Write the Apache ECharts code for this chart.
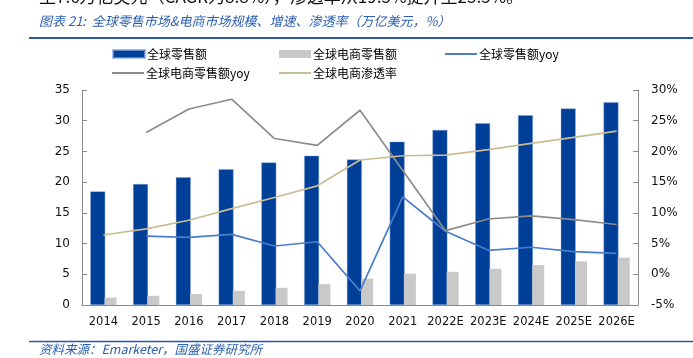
<!DOCTYPE html>
<html>
<head>
<meta charset="utf-8">
<script src="https://cdn.jsdelivr.net/npm/echarts@6/dist/echarts.min.js"></script>
<style>
html,body{margin:0;padding:0;background:#fff;}
#c{width:693px;height:358px;}
</style>
</head>
<body>
<div id="c"></div>
<script>
const categories = ['2014','2015','2016','2017','2018','2019','2020','2021','2022E','2023E','2024E','2025E','2026E'];
const retail = [18.5, 19.7, 20.8, 22.1, 23.2, 24.3, 23.7, 26.6, 28.5, 29.6, 30.9, 32.0, 33.0];
const ecom = [1.2, 1.5, 1.8, 2.3, 2.8, 3.4, 4.3, 5.1, 5.4, 5.9, 6.5, 7.1, 7.7];
const retailYoy = ['-', 6.2, 6.0, 6.5, 4.6, 5.3, -2.7, 12.6, 7.0, 3.9, 4.4, 3.7, 3.4];
const ecomYoy = ['-', 23.1, 26.9, 28.5, 22.1, 21.0, 26.7, 16.9, 7.1, 9.0, 9.5, 8.9, 8.1];
const penetration = [6.4, 7.4, 8.8, 10.7, 12.5, 14.4, 18.6, 19.3, 19.4, 20.3, 21.3, 22.3, 23.3];
const seriesNames = ['全球零售额', '全球电商零售额', '全球零售额yoy', '全球电商零售额yoy', '全球电商渗透率'];
const headerText = '至7.6万亿美元（CAGR为8.8%），渗透率从19.5%提升至23.5%。';
const titleText = '图表 21:  全球零售市场&电商市场规模、增速、渗透率（万亿美元，%）';
const sourceText = '资料来源：Emarketer，国盛证券研究所';

const cjk = '"Noto Sans CJK SC", "DejaVu Sans", sans-serif';
const num = '"DejaVu Sans", sans-serif';
const titleBlue = '#2B5FB0';

const chart = echarts.init(document.getElementById('c'), null, {renderer: 'canvas'});

function leg(name, left, top, isBar) {
  return {
    data: [{name: name, icon: 'rect'}],
    left: left, top: top, padding: 0,
    itemWidth: 32, itemHeight: isBar ? 8 : 2,
    textStyle: {fontFamily: cjk, fontSize: 12, color: '#000', padding: [0,0,0,-3]},
    selectedMode: false
  };
}

const option = {
  animation: false,
  backgroundColor: '#fff',
  textStyle: {fontFamily: num},
  legend: [
    leg(seriesNames[0], 112, 48, true),
    leg(seriesNames[1], 279, 48, true),
    leg(seriesNames[2], 445, 48, false),
    leg(seriesNames[3], 112, 67, false),
    leg(seriesNames[4], 279, 67, false)
  ],
  grid: {left: 82, right: 55, top: 90, bottom: 53, containLabel: false},
  xAxis: {
    type: 'category',
    data: categories,
    axisLine: {lineStyle: {color: '#8a8a8a', width: 1}},
    axisTick: {inside: true, length: 4, lineStyle: {color: '#8a8a8a'}},
    axisLabel: {color: '#111', fontSize: 11.5, fontFamily: num, margin: 11, interval: 0}
  },
  yAxis: [
    {
      type: 'value', min: 0, max: 35, interval: 5,
      axisLine: {show: true, lineStyle: {color: '#8a8a8a'}},
      axisTick: {show: true, inside: true, length: 5, lineStyle: {color: '#8a8a8a'}},
      splitLine: {show: false},
      axisLabel: {color: '#111', fontSize: 12, fontFamily: num, margin: 12}
    },
    {
      type: 'value', min: -5, max: 30, interval: 5,
      axisLine: {show: true, lineStyle: {color: '#8a8a8a'}},
      axisTick: {show: true, inside: true, length: 5, lineStyle: {color: '#8a8a8a'}},
      splitLine: {show: false},
      axisLabel: {color: '#111', fontSize: 12, fontFamily: num, margin: 13, formatter: '{value}%'}
    }
  ],
  series: [
    {
      name: seriesNames[0], type: 'bar', data: retail, barWidth: 15, barGap: '-5%',
      itemStyle: {color: '#003F97', borderColor: 'rgba(130,165,220,0.7)', borderWidth: 0.6}
    },
    {
      name: seriesNames[1], type: 'bar', data: ecom, barWidth: 12,
      itemStyle: {color: '#C9C9C9'}
    },
    {
      name: seriesNames[2], type: 'line', yAxisIndex: 1, data: retailYoy,
      symbol: 'none', lineStyle: {color: '#4A7DCA', width: 1.7}, itemStyle: {color: '#4A7DCA'}
    },
    {
      name: seriesNames[3], type: 'line', yAxisIndex: 1, data: ecomYoy,
      symbol: 'none', lineStyle: {color: '#8C8C8C', width: 1.7}, itemStyle: {color: '#8C8C8C'}
    },
    {
      name: seriesNames[4], type: 'line', yAxisIndex: 1, data: penetration,
      symbol: 'none', lineStyle: {color: '#C8BD95', width: 1.7}, itemStyle: {color: '#C8BD95'}
    }
  ],
  graphic: [
    {type: 'text', left: 39, top: -12, style: {text: headerText, fontFamily: cjk, fontSize: 17, fill: '#111'}},
    {type: 'text', left: 39, top: 15, style: {text: titleText, fontFamily: cjk, fontSize: 13, fontStyle: 'italic', fill: titleBlue}},
    {type: 'line', shape: {x1: 29, y1: 38, x2: 693, y2: 38}, style: {stroke: '#2556A8', lineWidth: 2}},
    {type: 'line', shape: {x1: 29, y1: 341.5, x2: 693, y2: 341.5}, style: {stroke: '#2556A8', lineWidth: 1.5}},
    {type: 'text', left: 39, top: 343, style: {text: sourceText, fontFamily: cjk, fontSize: 12.5, fontStyle: 'italic', fill: titleBlue}}
  ]
};
chart.setOption(option);
</script>
</body>
</html>
